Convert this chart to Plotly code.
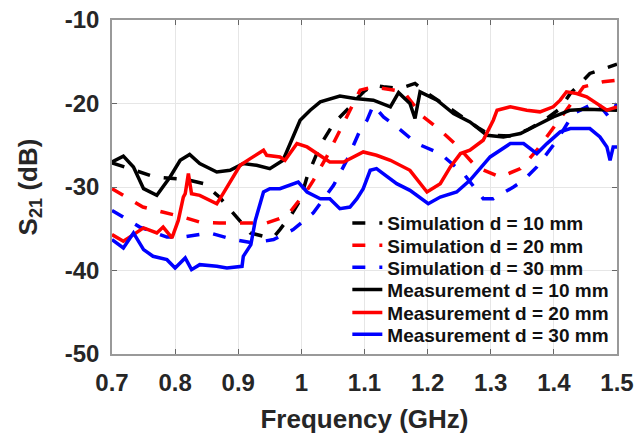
import plotly.graph_objects as go

# Simulated S21, d = 10 mm
sim10_f = [0.700, 0.720, 0.768, 0.818, 0.845, 0.870, 0.892, 0.919, 0.940, 0.956, 0.966, 0.985, 0.998,
           1.009, 1.030, 1.051, 1.077, 1.088, 1.100, 1.114, 1.130, 1.156, 1.180, 1.200, 1.220, 1.250,
           1.280, 1.300, 1.330, 1.357, 1.385, 1.410, 1.426, 1.442, 1.457, 1.480, 1.500]
sim10_db = [-27.1, -27.6, -28.8, -29.1, -29.6, -31.2, -33.1, -35.5, -35.9, -36.0, -35.1, -33.2, -31.6,
            -28.8, -25.0, -22.4, -20.4, -19.4, -18.5, -17.8, -18.0, -18.2, -17.6, -18.8, -19.8, -21.4,
            -22.9, -23.8, -23.9, -23.2, -22.0, -20.6, -18.8, -17.6, -16.4, -15.8, -15.3]

# Simulated S21, d = 20 mm
sim20_f = [0.700, 0.749, 0.780, 0.813, 0.839, 0.870, 0.903, 0.945, 0.965, 0.982, 1.009, 1.019, 1.040,
           1.061, 1.082, 1.093, 1.114, 1.130, 1.162, 1.193, 1.220, 1.246, 1.277, 1.315, 1.347, 1.373,
           1.415, 1.447, 1.478, 1.500]
sim20_db = [-30.2, -32.4, -33.0, -33.6, -34.2, -34.3, -34.3, -34.3, -33.8, -33.0, -30.4, -29.2, -26.4,
            -23.2, -20.2, -18.4, -18.0, -18.2, -18.6, -21.6, -23.2, -25.0, -27.6, -28.8, -27.8, -25.6,
            -21.2, -18.0, -17.4, -17.2]

# Simulated S21, d = 30 mm
sim30_f = [0.700, 0.744, 0.787, 0.813, 0.855, 0.892, 0.924, 0.956, 0.987, 1.019, 1.051, 1.072, 1.093,
           1.104, 1.114, 1.130, 1.151, 1.183, 1.220, 1.257, 1.288, 1.304, 1.336, 1.352, 1.373, 1.405,
           1.431, 1.468, 1.487, 1.500]
sim30_db = [-32.8, -34.8, -36.0, -36.0, -35.5, -36.3, -36.7, -36.3, -35.1, -33.1, -29.8, -26.8, -23.2,
            -22.0, -20.2, -21.6, -22.8, -24.8, -26.0, -28.4, -31.4, -31.4, -30.0, -29.2, -27.6, -24.4,
            -21.2, -19.8, -21.6, -20.0]

# Measured S21, d = 10 mm
meas10_f = [0.700, 0.718, 0.734, 0.750, 0.771, 0.792, 0.808, 0.823, 0.839, 0.866, 0.887, 0.908, 0.929,
            0.950, 0.971, 0.985, 0.998, 1.014, 1.030, 1.061, 1.085, 1.114, 1.141, 1.154, 1.172, 1.180,
            1.188, 1.215, 1.241, 1.267, 1.294, 1.320, 1.347, 1.373, 1.399, 1.426, 1.452, 1.500]
meas10_db = [-27.0, -26.3, -27.6, -30.2, -31.0, -28.8, -26.8, -26.1, -27.2, -28.2, -28.0, -27.2, -27.4,
             -27.8, -26.8, -24.4, -22.0, -20.8, -19.8, -19.1, -19.4, -19.6, -20.4, -18.7, -20.0, -21.8,
             -18.6, -19.6, -21.2, -22.2, -23.8, -24.0, -23.6, -22.6, -21.6, -20.8, -20.7, -20.8]

# Measured S21, d = 20 mm
meas20_f = [0.700, 0.718, 0.734, 0.750, 0.771, 0.781, 0.795, 0.805, 0.813, 0.816, 0.821, 0.826, 0.839,
            0.866, 0.876, 0.887, 0.903, 0.919, 0.940, 0.945, 0.966, 0.974, 0.993, 1.009, 1.024, 1.045,
            1.067, 1.082, 1.098, 1.119, 1.141, 1.172, 1.199, 1.220, 1.236, 1.252, 1.267, 1.288, 1.304,
            1.310, 1.331, 1.357, 1.378, 1.399, 1.410, 1.420, 1.436, 1.452, 1.468, 1.484, 1.500]
meas20_db = [-35.7, -36.5, -35.7, -34.9, -35.5, -34.8, -36.1, -34.0, -31.2, -30.8, -28.4, -30.8, -31.0,
             -32.0, -30.8, -29.4, -27.4, -26.6, -25.6, -26.2, -26.4, -26.8, -24.8, -25.2, -26.0, -27.0,
             -27.0, -26.4, -25.8, -26.2, -26.8, -28.0, -30.6, -29.6, -27.6, -26.0, -25.6, -24.4, -22.0,
             -20.8, -20.4, -20.8, -21.0, -20.4, -19.6, -18.6, -18.8, -19.2, -20.0, -20.8, -20.4]

# Measured S21, d = 30 mm
meas30_f = [0.700, 0.718, 0.734, 0.750, 0.765, 0.787, 0.800, 0.816, 0.826, 0.839, 0.866, 0.882, 0.906,
            0.908, 0.920, 0.927, 0.940, 0.950, 0.966, 0.979, 0.995, 1.009, 1.030, 1.045, 1.061, 1.077,
            1.088, 1.098, 1.109, 1.119, 1.141, 1.151, 1.172, 1.201, 1.220, 1.246, 1.267, 1.299, 1.331,
            1.352, 1.373, 1.389, 1.410, 1.426, 1.457, 1.473, 1.484, 1.489, 1.494, 1.500]
meas30_db = [-36.3, -37.3, -35.5, -37.5, -38.3, -38.7, -39.7, -38.5, -39.9, -39.3, -39.5, -39.7, -39.5,
             -38.3, -36.9, -34.0, -30.6, -30.2, -30.2, -29.8, -29.4, -30.6, -31.4, -31.4, -32.6, -32.4,
             -31.4, -30.2, -28.0, -27.8, -29.0, -29.6, -30.4, -32.0, -31.2, -30.6, -29.2, -26.4, -24.8,
             -24.8, -26.0, -24.8, -23.4, -23.0, -23.0, -24.0, -25.2, -26.8, -25.2, -25.2]

x_ticks = [0.7, 0.8, 0.9, 1.0, 1.1, 1.2, 1.3, 1.4, 1.5]
x_tick_text = ["0.7", "0.8", "0.9", "1", "1.1", "1.2", "1.3", "1.4", "1.5"]
y_ticks = [-50, -40, -30, -20, -10]
y_tick_text = ["-50", "-40", "-30", "-20", "-10"]

series = [
    ("Simulation d = 10 mm", sim10_f, sim10_db, "#000000", "13px,14px"),
    ("Simulation d = 20 mm", sim20_f, sim20_db, "#ff0000", "13px,14px"),
    ("Simulation d = 30 mm", sim30_f, sim30_db, "#0000ff", "13px,14px"),
    ("Measurement d = 10 mm", meas10_f, meas10_db, "#000000", "solid"),
    ("Measurement d = 20 mm", meas20_f, meas20_db, "#ff0000", "solid"),
    ("Measurement d = 30 mm", meas30_f, meas30_db, "#0000ff", "solid"),
]

FONT = "Liberation Sans, Arial, sans-serif"
legend_ids = ["legend", "legend2", "legend3", "legend4", "legend5", "legend6"]
# one single-entry legend per series, stacked in the lower right of the plot
legend_rows = [0.392, 0.325, 0.259, 0.193, 0.124, 0.059]

fig = go.Figure()
for (name, f, db, color, dash), lid in zip(series, legend_ids):
    fig.add_trace(go.Scatter(x=f, y=db, mode="lines", name=name, legend=lid,
                             line=dict(color=color, width=3.5, dash=dash)))

axis_common = dict(
    showline=True, linecolor="#999999", linewidth=1.5, mirror="ticks",
    ticks="inside", ticklen=5, tickcolor="#666666",
    showgrid=True, gridcolor="#e6e6e6", gridwidth=1, zeroline=False,
    automargin=False,
    tickfont=dict(family=FONT, size=24, color="#262626", weight="bold"),
)

fig.update_xaxes(range=[0.7, 1.5], tickvals=x_ticks, ticktext=x_tick_text,
                 ticklabelstandoff=6,
                 title=dict(text="Frequency (GHz)", standoff=15,
                            font=dict(family=FONT, size=26, color="#262626", weight="bold")),
                 **axis_common)
fig.update_yaxes(range=[-50, -10], tickvals=y_ticks, ticktext=y_tick_text,
                 ticklabelstandoff=6,
                 title=dict(text="S<sub>21</sub> (dB)", standoff=20,
                            font=dict(family=FONT, size=26, color="#262626", weight="bold")),
                 **axis_common)

legend_style = dict(x=0.466, xanchor="left", yanchor="middle", visible=True,
                    bgcolor="rgba(0,0,0,0)", borderwidth=0,
                    font=dict(family=FONT, size=19, color="#111111", weight="bold"))
layout_legends = {lid: dict(y=yc, **legend_style) for lid, yc in zip(legend_ids, legend_rows)}

fig.update_layout(
    width=638, height=436,
    margin=dict(l=112, r=21, t=20, b=82, autoexpand=False),
    paper_bgcolor="white", plot_bgcolor="white",
    font=dict(family=FONT, color="#262626"),
    showlegend=True,
    **layout_legends,
)

fig.write_html("out.html")
